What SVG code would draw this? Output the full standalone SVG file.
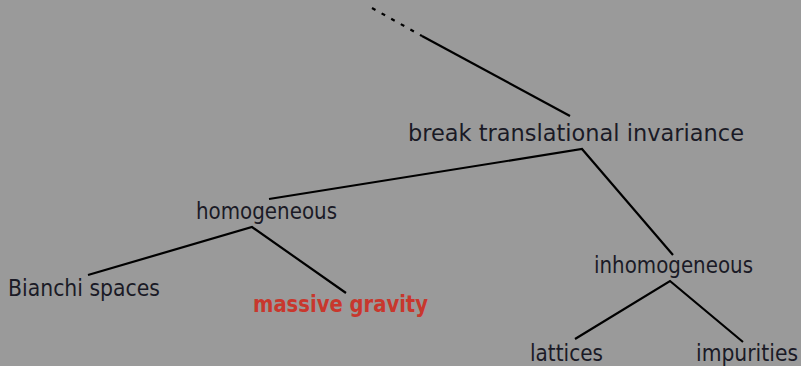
<svg xmlns="http://www.w3.org/2000/svg" width="801" height="366" viewBox="0 0 801 366">
<style>
.t{font-family:"DejaVu Sans","Liberation Sans",sans-serif;font-size:23.5px;fill:#1a1a26}
.r{font-family:"DejaVu Sans","Liberation Sans",sans-serif;font-size:23.5px;font-weight:bold;fill:#c8372d}
.e{stroke:#000;stroke-width:2.2;fill:none;stroke-linecap:butt}
</style>
<rect width="801" height="366" fill="#9a9a9a"/>
<g id="connectors">
<line class="e" x1="372" y1="8" x2="422" y2="36" stroke-dasharray="4 7"/>
<line class="e" x1="422" y1="36" x2="570" y2="116"/>
<polyline class="e" points="269,199 582,149 673,255"/>
<polyline class="e" points="88,275 252,227 346,293"/>
<polyline class="e" points="575,339 670,281 743,342"/>
</g>
<g id="root"><text class="t" x="408" y="141" textLength="336" lengthAdjust="spacingAndGlyphs">break translational invariance</text></g>
<g id="homogeneous"><text class="t" x="196" y="219" textLength="141" lengthAdjust="spacingAndGlyphs">homogeneous</text></g>
<g id="inhomogeneous"><text class="t" x="594" y="273" textLength="159" lengthAdjust="spacingAndGlyphs">inhomogeneous</text></g>
<g id="bianchi"><text class="t" x="8" y="296" textLength="152" lengthAdjust="spacingAndGlyphs">Bianchi spaces</text></g>
<g id="massive"><text class="r" x="253" y="312" textLength="175" lengthAdjust="spacingAndGlyphs">massive gravity</text></g>
<g id="lattices"><text class="t" x="530" y="361" textLength="73" lengthAdjust="spacingAndGlyphs">lattices</text></g>
<g id="impurities"><text class="t" x="696" y="361" textLength="102" lengthAdjust="spacingAndGlyphs">impurities</text></g>
</svg>
